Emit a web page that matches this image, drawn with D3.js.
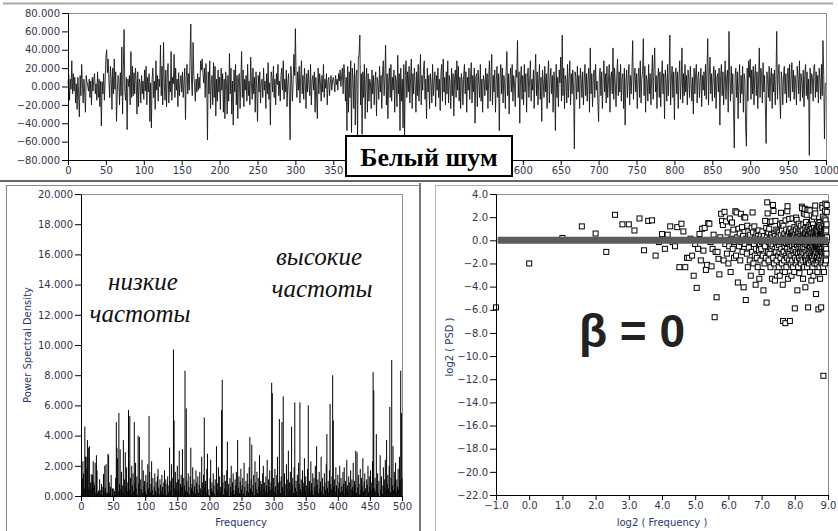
<!DOCTYPE html>
<html>
<head>
<meta charset="utf-8">
<script src="https://cdn.jsdelivr.net/npm/d3@7"></script>
<style>
body { margin: 0; background: #fff; }
.tick text { font-family: "DejaVu Sans", sans-serif; font-size: 10px; fill: #34344e; }
.tick line, .domain { stroke: #000; }
</style>
</head>
<body>
<div id="chart"></div>
<script>
// white noise signal, 1000 samples
var noise = [
2,12,-15,8,-3,28,-8,14,-5,10,-18,3,-25,10,-8,-33,12,-10,24,4,-18,8,-6,-28,12,5,1,-5,8,-12,6,-20,10,-5,8,14,-8,3,-15,16,-12,8,-22,6,-43,5,-8,14,-15,6,
32,40,15,30,5,-12,22,8,-25,20,-8,30,-3,16,-38,-6,12,8,-20,15,-10,43,-30,20,62,-5,-15,10,-47,8,0,12,-20,38,-12,22,-10,15,-8,20,5,-30,16,-22,8,4,-18,12,-8,6,
-14,18,-5,22,-20,10,-6,14,-38,4,-45,8,20,-12,6,-25,28,-4,12,-16,8,0,45,-10,22,-20,48,4,-15,18,-22,12,25,-18,6,-6,38,-15,10,3,35,-12,20,-4,8,-22,15,-10,4,12,
-6,16,-12,4,20,-36,10,24,-8,14,-4,30,68,4,-10,48,12,0,-16,8,-6,14,-4,10,-2,28,18,30,15,4,20,-12,25,6,-58,16,-8,28,-24,4,12,-20,26,-12,22,-32,8,-16,18,-6,
10,-25,20,-4,14,-28,8,-35,16,4,-30,12,-16,36,-8,20,-30,6,-42,18,-6,24,-20,12,-35,10,14,-24,4,38,-12,18,-22,8,-4,12,-16,24,-10,6,-20,32,4,-14,20,-8,10,-28,16,-2,
-38,12,-6,16,-18,4,8,-12,20,-4,6,-24,14,-8,26,-14,4,-42,16,10,-6,22,-12,8,-20,14,2,24,-10,6,-16,12,20,-4,28,-14,8,-6,18,-22,4,14,-10,-58,22,8,-16,4,35,12,
63,6,-12,16,-4,22,-18,10,28,-8,12,-14,20,4,-24,14,-6,18,2,-10,24,-20,6,12,-4,16,-28,10,-12,-35,20,-8,14,4,-16,12,-6,24,-12,8,-2,14,-20,6,10,-10,4,12,-4,6,
10,4,-6,12,2,8,-4,14,6,18,0,12,20,-8,24,14,-16,10,-48,22,-28,16,-12,28,-50,20,8,-24,25,-42,12,18,-55,30,35,56,-20,14,-52,16,-12,24,-35,6,20,-28,14,-16,8,4,
-24,18,-8,12,-20,6,16,-32,10,4,-14,22,-6,12,-24,16,28,-10,8,45,-20,14,-35,6,20,-12,24,-16,10,-4,18,-28,12,6,-22,34,-8,14,-48,20,-16,8,-45,24,-55,12,28,-12,16,-6,
22,-18,10,30,-24,14,-8,20,4,-28,16,-10,24,-16,6,35,-20,12,-4,18,28,-14,8,-35,20,-6,12,-24,14,4,-18,24,-10,6,16,-22,12,-4,20,-12,8,-26,14,24,-16,30,-6,10,-20,16,
-8,28,-18,12,4,-24,20,-10,14,-32,8,18,-12,28,-4,22,-16,10,-24,14,6,-20,12,24,-8,16,-28,10,-4,20,-14,8,26,-18,12,-6,20,-40,10,14,-22,18,4,-12,24,-16,8,-28,12,6,
-10,20,-4,14,-24,10,28,-16,8,35,-20,12,-6,18,-28,6,22,-12,14,-48,10,24,-8,20,-18,12,4,-24,16,38,-10,14,-30,8,20,-6,24,-16,12,4,-22,18,10,50,-12,16,-40,8,22,-14,
12,-20,24,-6,14,-28,10,20,-12,6,28,-16,8,-4,18,-24,12,35,-10,16,-20,6,24,-14,10,-38,18,4,-12,22,-6,14,-24,10,28,-18,8,20,-8,12,-28,16,6,-48,24,-12,10,-22,18,4,
32,-16,56,-10,20,-24,12,6,-18,24,-12,8,28,-20,14,-8,18,-4,-68,16,10,-14,22,-6,12,-24,20,8,-12,16,-20,6,24,-10,14,-16,8,20,-28,42,-8,14,-22,10,18,-12,24,-4,6,-16,
-38,12,20,-10,16,-24,8,28,-6,14,-18,22,-12,6,24,-28,10,16,-8,42,-14,20,4,-22,12,30,-10,16,-6,24,-16,10,14,-24,20,-42,6,18,-12,8,24,-20,12,-8,16,50,-14,10,20,-6,
14,-24,10,20,-12,28,-18,8,16,52,-10,22,-28,12,6,-16,24,-8,14,-20,10,34,-14,18,42,-6,12,-24,8,20,-12,16,-22,10,28,-8,14,-35,18,6,-16,24,-10,12,56,-20,8,22,-12,16,
-36,12,20,-8,16,-24,10,28,-14,6,42,-18,14,-10,24,-6,12,-20,18,8,-12,22,4,-16,10,-30,20,-8,14,24,-18,10,16,-12,6,20,-22,12,-4,16,-10,24,-14,18,52,-20,12,32,-8,14,
-16,10,22,-12,18,-24,8,14,-6,20,-42,12,24,-10,16,-20,6,28,-14,10,18,-28,60,12,-16,22,-8,14,-24,-67,10,20,-12,16,-35,6,24,-18,12,-8,22,-28,14,8,-45,-65,20,-16,28,10,
30,-14,18,-8,22,-20,12,24,-10,16,-24,6,42,-12,20,14,-18,26,-6,12,-22,-62,16,8,-12,22,-16,10,20,-24,14,-6,18,-20,8,60,-14,12,24,-10,-35,16,6,-20,12,22,-8,14,-18,10,
20,-12,24,-16,8,26,-6,18,-14,12,4,-20,22,10,-8,28,-16,14,6,-12,18,-22,12,24,-10,16,-14,8,-75,20,-8,14,10,-16,22,24,-12,16,-6,12,-18,20,8,-14,24,-10,50,12,-57,4
];

// power spectral density, 501 bins (first bin plotted at 0.5 on the log axis)
var psd = [
0.018,0.25,1.15,2.3,1.5,0.5,4.6,2.6,2.6,1.8,3.7,0.55,3.2,3.3,0.4,0.9,1.45,0.6,1.4,2.3,0.9,0.7,2.2,0.2,2.7,
1.7,0.2,0.35,0.35,1.1,0.4,0.12,0.8,0.058,0.6,1.46,0.3,2.0,0.54,2.1,0.17,0.23,2.8,2.7,0.9,0.21,0.6,1.4,0.01,0.5,
0.033,0.5,0.33,0.13,1.2,4.9,3.2,2.5,0.3,5.5,0.8,3.1,0.45,1.6,0.25,0.7,3.7,0.15,1.1,2.9,0.6,1.9,0.35,0.9,5.7,
0.4,5.3,1.2,0.08,2.0,0.7,1.5,0.3,4.9,0.9,2.2,0.5,1.3,0.06,4.0,0.8,3.9,0.028,1.1,0.45,2.4,0.2,1.7,0.65,1.0,
0.3,1.4,0.12,0.9,2.1,0.5,5.3,1.6,0.25,0.8,2.3,0.4,1.2,0.07,0.6,1.5,0.35,0.95,0.2,1.3,1.8,0.55,0.1,1.1,0.75,
0.3,1.4,0.6,0.15,0.9,1.7,0.4,1.1,0.05,0.8,1.3,0.25,0.7,3.2,1.0,0.35,2.1,0.024,1.2,9.7,5.0,0.5,1.6,0.3,0.9,
2.0,0.45,1.1,3.0,0.2,0.8,1.4,0.6,3.1,0.1,1.2,0.7,8.3,0.35,5.8,1.0,0.25,1.5,0.6,0.09,1.3,3.2,0.5,0.8,1.9,
0.3,1.1,0.65,0.15,1.7,0.9,0.4,1.3,0.2,0.75,1.6,0.5,0.12,2.6,0.9,0.35,1.4,5.2,0.6,1.0,0.25,1.8,2.8,0.45,0.07,
0.008,1.2,2.4,0.5,0.9,0.3,1.5,0.7,0.15,1.1,0.007,3.3,0.4,0.85,1.9,0.2,1.3,0.6,0.35,5.7,7.7,0.9,0.1,1.4,0.5,
1.0,0.3,1.7,3.6,0.45,0.8,0.008,1.2,0.6,2.0,0.25,0.9,1.5,0.4,0.12,1.1,0.7,1.6,0.3,3.7,0.55,1.3,0.2,0.95,1.8,
0.4,0.7,1.2,0.15,2.2,0.6,0.017,1.0,0.35,1.5,0.8,0.25,1.9,3.9,0.5,1.1,3.4,0.3,0.75,1.4,0.05,2.3,0.9,0.45,1.6,
0.2,1.2,0.6,2.7,0.35,1.0,0.8,0.14,1.5,2.0,0.5,0.9,0.3,1.3,0.7,2.4,0.25,1.1,0.6,1.7,0.4,0.9,7.5,6.8,0.5,
1.2,0.3,1.8,0.65,0.1,1.4,2.6,0.45,0.9,5.1,1.0,0.2,1.3,4.9,0.6,6.6,0.35,1.5,0.8,0.06,2.1,0.5,1.1,3.0,0.3,
0.9,1.6,0.4,4.6,0.75,1.2,0.2,1.9,6.2,0.55,1.0,0.3,1.4,0.018,2.2,0.8,6.2,0.45,1.1,0.25,1.7,0.6,0.9,2.5,0.35,
1.3,0.7,0.15,1.8,6.0,0.5,1.0,0.3,2.3,0.85,0.4,1.5,0.09,1.2,0.6,2.0,0.35,3.3,0.75,1.1,0.2,1.6,0.5,0.95,2.6,
0.3,1.2,0.65,0.12,1.5,0.9,0.4,2.1,4.1,0.55,1.0,0.25,1.7,6.1,0.8,0.45,1.3,8.0,5.0,0.6,1.1,0.3,1.9,0.7,0.04,
1.4,0.5,0.9,2.0,0.25,1.2,0.65,0.35,1.6,0.8,1.9,0.15,1.0,0.5,2.4,0.7,0.3,1.3,0.9,0.016,1.7,0.45,1.1,0.6,2.2,
0.35,1.0,0.7,3.0,0.2,2.9,0.55,1.4,0.8,0.1,1.8,0.4,1.2,0.65,2.5,0.3,0.95,1.5,0.5,0.018,1.1,0.75,2.0,0.25,1.3,
0.6,1.7,0.4,0.9,2.3,8.2,7.0,0.5,1.2,0.3,4.1,0.8,1.5,0.2,1.0,0.0003,2.7,0.45,1.3,0.7,0.15,1.9,0.6,1.1,2.4,
0.35,3.7,0.8,1.4,0.5,2.0,5.9,0.25,1.2,9.0,0.7,3.3,0.4,1.6,0.9,2.2,0.3,1.1,0.6,1.8,0.45,2.6,1.0,8.3,5.5,
1.2
];
var freqs = psd.map(function (d, i) { return i === 0 ? 0.5 : i; });

var slope = 0;      // fitted beta
var intercept = 0;

var noiseTicks = [-80, -60, -40, -20, 0, 20, 40, 60, 80],
    timeTicks = [0, 50, 100, 150, 200, 250, 300, 350, 400, 450, 500, 550, 600, 650, 700, 750, 800, 850, 900, 950, 1000],
    psdTicks = [0, 2, 4, 6, 8, 10, 12, 14, 16, 18, 20],
    freqTicks = [0, 50, 100, 150, 200, 250, 300, 350, 400, 450, 500],
    logPsdTicks = [4, 2, 0, -2, -4, -6, -8, -10, -12, -14, -16, -18, -20, -22],
    logFreqTicks = [-1, 0, 1, 2, 3, 4, 5, 6, 7, 8, 9];

var width = 838,
    height = 531;

var serif = "'Liberation Serif', 'DejaVu Serif', 'Times New Roman', serif";

var svg = d3.select("#chart").append("svg")
    .attr("width", width)
    .attr("height", height)
    .style("display", "block");

// panel frames
svg.append("line").attr("x1", 3).attr("x2", 833).attr("y1", 3.5).attr("y2", 3.5)
    .attr("stroke", "#a8a8a8").attr("stroke-width", 2);
svg.append("line").attr("x1", 0).attr("x2", width).attr("y1", 181).attr("y2", 181)
    .attr("stroke", "#333").attr("stroke-width", 1.5);
svg.append("rect").attr("x", 6.5).attr("y", 185.5).attr("width", 413).attr("height", 360)
    .attr("fill", "none").attr("stroke", "#8a8a8a");
svg.append("line").attr("x1", 420).attr("x2", 420).attr("y1", 183).attr("y2", height)
    .attr("stroke", "#777").attr("stroke-width", 2);
svg.append("rect").attr("x", 435.5).attr("y", 185.5).attr("width", 420).attr("height", 360)
    .attr("fill", "none").attr("stroke", "#b0b0b0");

function plotFrame(x0, x1, y0, y1) {
    svg.append("path")
        .attr("d", "M" + x0 + "," + (y0 + 0.5) + "H" + (x1 + 0.5) + "V" + y1)
        .attr("fill", "none")
        .attr("stroke", "#8c8c8c");
}

function styleAxis(g) {
    g.select(".domain").attr("stroke", "#000");
}

// ---- top: white noise ----
var xT = d3.scaleLinear().domain([0, 1000]).range([68, 826]),
    yT = d3.scaleLinear().domain([-80, 80]).range([160, 13]);

plotFrame(68, 826, 13, 160);

var line = d3.line()
    .x(function (d, i) { return xT(i); })
    .y(function (d) { return yT(d); });

svg.append("path")
    .datum(noise)
    .attr("d", line)
    .attr("fill", "none")
    .attr("stroke", "#111")
    .attr("stroke-width", 0.85);

svg.append("g")
    .attr("transform", "translate(68,0)")
    .call(d3.axisLeft(yT).tickValues(noiseTicks).tickFormat(d3.format(".3f")).tickSize(6).tickSizeOuter(0).tickPadding(2))
    .call(styleAxis);

var timeAxis = svg.append("g")
    .attr("transform", "translate(0,160)")
    .call(d3.axisBottom(xT).tickValues(timeTicks).tickFormat(d3.format("d")).tickSize(5).tickSizeOuter(0).tickPadding(2))
    .call(styleAxis);
// labels hidden behind the title box
timeAxis.selectAll(".tick text")
    .filter(function (d) { return d >= 400 && d <= 550; })
    .remove();

svg.append("rect")
    .attr("x", 346).attr("y", 136).attr("width", 166).attr("height", 40)
    .attr("fill", "#fff").attr("stroke", "#000").attr("stroke-width", 2);
svg.append("text")
    .attr("x", 429).attr("y", 166)
    .attr("text-anchor", "middle")
    .attr("font-family", serif)
    .attr("font-weight", "bold")
    .attr("font-size", 26)
    .text("Белый шум");

// ---- bottom left: power spectrum ----
var xP = d3.scaleLinear().domain([0, 500]).range([81, 402]),
    yP = d3.scaleLinear().domain([0, 20]).range([496, 194]);

plotFrame(81, 402, 194, 496);

svg.append("g").selectAll("rect")
    .data(psd)
    .enter().append("rect")
    .attr("x", function (d, i) { return xP(i) - 0.5; })
    .attr("width", 1)
    .attr("y", function (d) { return yP(d); })
    .attr("height", function (d) { return yP(0) - yP(d); })
    .attr("fill", "#000");

svg.append("g")
    .attr("transform", "translate(81,0)")
    .call(d3.axisLeft(yP).tickValues(psdTicks).tickFormat(d3.format(".3f")).tickSize(6).tickSizeOuter(0).tickPadding(2))
    .call(styleAxis);

svg.append("g")
    .attr("transform", "translate(0,496)")
    .call(d3.axisBottom(xP).tickValues(freqTicks).tickFormat(d3.format("d")).tickSize(5).tickSizeOuter(0).tickPadding(2))
    .call(styleAxis);

svg.append("text")
    .attr("x", 241).attr("y", 526)
    .attr("text-anchor", "middle")
    .attr("font-family", "DejaVu Sans, sans-serif")
    .attr("font-size", 10)
    .attr("fill", "#2b3670")
    .text("Frequency");

svg.append("text")
    .attr("transform", "translate(31,345) rotate(-90)")
    .attr("text-anchor", "middle")
    .attr("font-family", "DejaVu Sans, sans-serif")
    .attr("font-size", 10)
    .attr("fill", "#2b3670")
    .text("Power Spectral Density");

var notes = [
    {x: 143, y: 290, t: "низкие"}, {x: 140, y: 322, t: "частоты"},
    {x: 319, y: 265, t: "высокие"}, {x: 322, y: 297, t: "частоты"}
];
svg.selectAll(".note")
    .data(notes)
    .enter().append("text")
    .attr("class", "note")
    .attr("x", function (d) { return d.x; })
    .attr("y", function (d) { return d.y; })
    .attr("text-anchor", "middle")
    .attr("font-family", serif)
    .attr("font-style", "italic")
    .attr("font-size", 25)
    .attr("fill", "#111")
    .text(function (d) { return d.t; });

// ---- bottom right: log-log ----
var xL = d3.scaleLinear().domain([-1, 9]).range([496, 828]),
    yL = d3.scaleLinear().domain([-22, 4]).range([495, 194]);

plotFrame(496, 828, 194, 495);

svg.append("text")
    .attr("x", 632).attr("y", 347)
    .attr("text-anchor", "middle")
    .attr("font-family", "'Liberation Sans', Arial, sans-serif")
    .attr("font-weight", "bold")
    .attr("font-size", 46)
    .attr("fill", "#222")
    .text("β = 0");

svg.append("g").selectAll("rect")
    .data(psd)
    .enter().append("rect")
    .attr("x", function (d, i) { return xL(Math.log2(freqs[i])) - 2.5; })
    .attr("y", function (d) { return yL(Math.log2(d)) - 2.5; })
    .attr("width", 5)
    .attr("height", 5)
    .attr("fill", "#fff")
    .attr("stroke", "#000")
    .attr("stroke-width", 1);

svg.append("line")
    .attr("x1", xL(-0.95)).attr("x2", xL(9))
    .attr("y1", yL(intercept + slope * -0.95)).attr("y2", yL(intercept + slope * 9))
    .attr("stroke", "#5c5c5c")
    .attr("stroke-width", 7);

svg.append("g")
    .attr("transform", "translate(496,0)")
    .call(d3.axisLeft(yL).tickValues(logPsdTicks).tickFormat(d3.format(".1f")).tickSize(6).tickSizeOuter(0).tickPadding(2))
    .call(styleAxis);

svg.append("g")
    .attr("transform", "translate(0,495)")
    .call(d3.axisBottom(xL).tickValues(logFreqTicks).tickFormat(d3.format(".1f")).tickSize(5).tickSizeOuter(0).tickPadding(2))
    .call(styleAxis);

svg.append("text")
    .attr("x", 662).attr("y", 526)
    .attr("text-anchor", "middle")
    .attr("font-family", "DejaVu Sans, sans-serif")
    .attr("font-size", 10)
    .attr("fill", "#2b3670")
    .text("log2 ( Frequency )");

svg.append("text")
    .attr("transform", "translate(453,347) rotate(-90)")
    .attr("text-anchor", "middle")
    .attr("font-family", "DejaVu Sans, sans-serif")
    .attr("font-size", 10)
    .attr("fill", "#2b3670")
    .text("log2 ( PSD )");
</script>
</body>
</html>
